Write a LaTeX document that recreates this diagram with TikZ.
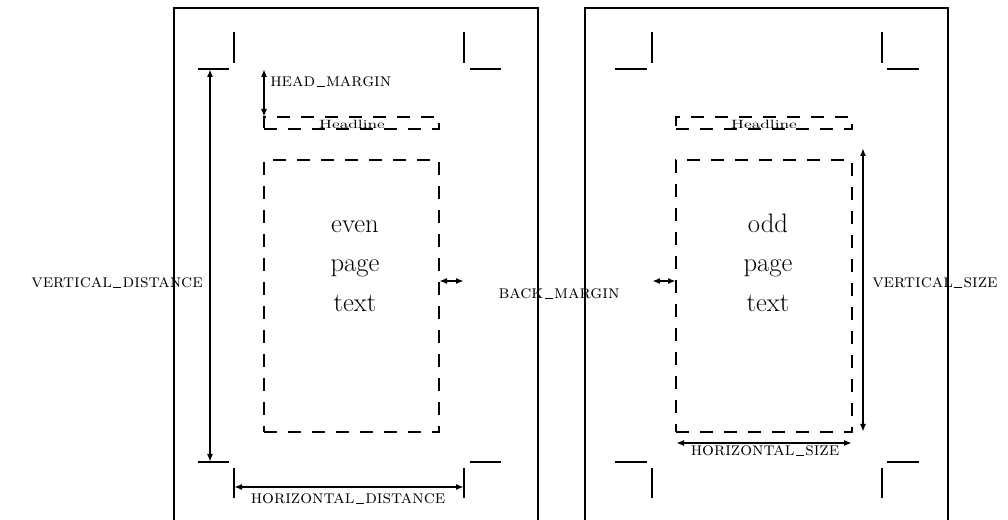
\documentclass[tikz,border=0pt]{standalone}
\usetikzlibrary{arrows.meta,fit}
\newcommand\lowbar{\kern0.08em\rule{0.42em}{0.9pt}\kern0.08em}
\begin{document}
\begin{tikzpicture}[x=0.75pt,y=-0.75pt,
  frame/.style={line width=1.7pt},
  cropmark/.style={line width=1.5pt},
  dbox/.style={draw,line width=1.5pt,dash pattern=on 9.5pt off 8.5pt,inner sep=0pt,outer sep=0pt},
  dimthick/.style={line width=1.6pt,{Latex[length=6pt,width=4.5pt]}-{Latex[length=6pt,width=4.5pt]}},
  dimthin/.style={line width=1.2pt,{Latex[length=6pt,width=4.5pt]}-{Latex[length=6pt,width=4.5pt]}},
  sclabel/.style={inner sep=0pt,font=\fontsize{14}{16}\selectfont\scshape},
  bigtext/.style={inner sep=0pt,anchor=base,font=\fontsize{20}{24}\selectfont},
  hltext/.style={inner sep=0pt,font=\fontsize{9}{10}\selectfont}
]
\useasboundingbox (0,0) rectangle (1008,520);
\clip (0,0) rectangle (1008,520);
\fill[white] (0,0) rectangle (1008,520);
% page frames
\draw[frame] (174,8) rectangle (538,560);
\draw[frame] (585,8) rectangle (948,560);
% crop marks, left page
\draw[cropmark] (198,69) -- (229,69);
\draw[cropmark] (234,32) -- (234,63);
\draw[cropmark] (464,32) -- (464,63);
\draw[cropmark] (470,69) -- (501,69);
\draw[cropmark] (198,462) -- (229,462);
\draw[cropmark] (234,468) -- (234,498);
\draw[cropmark] (464,468) -- (464,498);
\draw[cropmark] (470,462) -- (501,462);
% crop marks, right page
\draw[cropmark] (615,69) -- (647,69);
\draw[cropmark] (652,32) -- (652,63);
\draw[cropmark] (882,32) -- (882,63);
\draw[cropmark] (887,69) -- (919,69);
\draw[cropmark] (615,462) -- (647,462);
\draw[cropmark] (652,468) -- (652,498);
\draw[cropmark] (882,468) -- (882,498);
\draw[cropmark] (887,462) -- (919,462);
% boxes
\node[dbox,fit={(264,117) (439,129)}] (hlL) {};
\node[dbox,fit={(264,160) (439,432)}] (tbL) {};
\node[dbox,fit={(676,117) (852,129)}] (hlR) {};
\node[dbox,fit={(676,160) (852,432)}] (tbR) {};
\node[hltext] (hlLt) at (352,124) {\scalebox{1.4}[1]{Headline}};
\node[hltext] (hlRt) at (764,124) {\scalebox{1.4}[1]{Headline}};
% page texts
\node[bigtext] (e1) at (355,233) {even};
\node[bigtext] (e2) at (355,272) {page};
\node[bigtext] (e3) at (355,312) {text};
\node[bigtext] (o1) at (768,233) {odd};
\node[bigtext] (o2) at (768,272) {page};
\node[bigtext] (o3) at (768,312) {text};
% dimension coordinates
\coordinate (vdT) at (210,69);
\coordinate (vdB) at (210,462);
\coordinate (hmT) at (264,69);
\coordinate (hdL) at (234,487);
\coordinate (hdR) at (464,487);
\coordinate (bmL1) at (439,281);
\coordinate (bmL2) at (464,281);
\coordinate (bmR1) at (652,281);
\coordinate (bmR2) at (676,281);
\coordinate (vsT) at (863,148);
\coordinate (vsB) at (863,432);
\coordinate (hsL) at (676,443);
\coordinate (hsR) at (852,443);
% dimension arrows
\draw[dimthick] (vdT) -- (vdB);
\draw[dimthin] (hmT) -- (hlL.north west);
\draw[dimthick] (hdL) -- (hdR);
\draw[dimthin] (bmL1) -- (bmL2);
\draw[dimthin] (bmR1) -- (bmR2);
\draw[dimthin] (vsT) -- (vsB);
\draw[dimthin] (hsL) -- (hsR);
% labels
\node[sclabel,anchor=west] (lhm) at (270,82) {head\lowbar margin};
\node[sclabel] (lvd) at (117,283) {vertical\lowbar distance};
\node[sclabel] (lbm) at (559,294) {back\lowbar margin};
\node[sclabel,anchor=west] (lvs) at (872,283) {vertical\lowbar size};
\node[sclabel] (lhd) at (348,499) {horizontal\lowbar distance};
\node[sclabel] (lhs) at (765,451) {horizontal\lowbar size};
\end{tikzpicture}
\end{document}
